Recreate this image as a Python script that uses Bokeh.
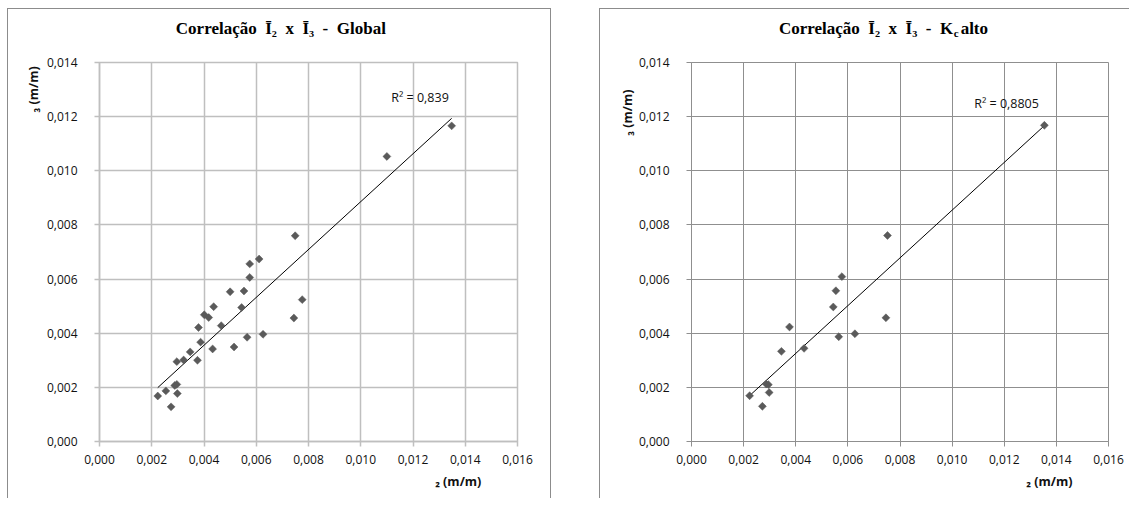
import numpy as np
from bokeh.plotting import figure
from bokeh.models import Range1d, FixedTicker, CustomJSTickFormatter, Label
from bokeh.layouts import row
from bokeh.embed import file_html
from bokeh.resources import INLINE

# ---------------- data ----------------
x_ticks = [0.000, 0.002, 0.004, 0.006, 0.008, 0.010, 0.012, 0.014, 0.016]
y_ticks = [0.000, 0.002, 0.004, 0.006, 0.008, 0.010, 0.012, 0.014]

global_i2 = [0.00223, 0.00254, 0.00274, 0.00288, 0.00296, 0.00298, 0.00296, 0.00322,
             0.00347, 0.00375, 0.00379, 0.00387, 0.00401, 0.00418, 0.00433, 0.00437,
             0.00466, 0.00500, 0.00515, 0.00544, 0.00553, 0.00565, 0.00575, 0.00575,
             0.00611, 0.00626, 0.00744, 0.00749, 0.00776, 0.01100, 0.01348]
global_i3 = [0.00168, 0.00187, 0.00128, 0.00207, 0.00211, 0.00177, 0.00295, 0.00301,
             0.00331, 0.00300, 0.00421, 0.00367, 0.00468, 0.00458, 0.00342, 0.00498,
             0.00428, 0.00553, 0.00349, 0.00495, 0.00556, 0.00385, 0.00606, 0.00656,
             0.00674, 0.00396, 0.00456, 0.00760, 0.00524, 0.01053, 0.01166]

kc_i2 = [0.00223, 0.00272, 0.00287, 0.00295, 0.00298, 0.00345, 0.00376, 0.00432,
         0.00544, 0.00554, 0.00565, 0.00577, 0.00627, 0.00746, 0.00752, 0.01354]
kc_i3 = [0.00169, 0.00130, 0.00212, 0.00210, 0.00181, 0.00333, 0.00423, 0.00344,
         0.00497, 0.00557, 0.00387, 0.00609, 0.00398, 0.00457, 0.00761, 0.01168]

NB = "\u00a0"
title_global = f"Correlação{NB} Ī₂{NB} x{NB} Ī₃{NB} -{NB} Global"
title_kc_main = f"Correlação{NB} Ī₂{NB} x{NB} Ī₃{NB} -{NB} K"
title_kc_sub = "c"
title_kc_tail = "alto"
r2_global = "R² = 0,839"
r2_kc = "R² = 0,8805"
x_label = "₂ (m/m)"
y_label = "₃ (m/m)"

# ---------------- layout constants ----------------
FW, FH = 416, 378
X_MAX, Y_MAX = 0.016, 0.014
TICK_FONT = "Open Sans"
SERIF = "Liberation Serif"
TITLE_DY = -33.5


def px(dx, dy):
    """frame-relative pixel offset (from frame top-left) -> data coords"""
    return dx / FW * X_MAX, Y_MAX - dy / FH * Y_MAX


def outside_label(p, place, pos, text, **kw):
    """text outside the frame: put in a side panel so it is not clipped"""
    x, y = px(*pos)
    p.add_layout(Label(x=x, y=y, text=text, **kw), place)


def make_chart(i2, i3, grid_color, grid_width, r2_text, r2_pos, ylab_pos,
               xlab_pos, min_right, borders):
    p = figure(frame_width=FW, frame_height=FH,
               min_border_left=91, min_border_right=min_right,
               min_border_top=53, min_border_bottom=58,
               x_range=Range1d(0, X_MAX), y_range=Range1d(0, Y_MAX),
               output_backend="svg", toolbar_location=None,
               background_fill_color="white", border_fill_color="white")
    p.styles = borders

    fmt = CustomJSTickFormatter(code="return tick.toFixed(3).replace('.', ',');")
    for ax, ticks, standoff in ((p.xaxis, x_ticks, 8), (p.yaxis, y_ticks, 17)):
        ax.ticker = FixedTicker(ticks=ticks)
        ax.formatter = fmt
        ax.major_label_text_font = TICK_FONT
        ax.major_label_text_font_size = "12px"
        ax.major_label_text_color = "#111111"
        ax.major_label_standoff = standoff
        ax.axis_line_color = grid_color
        ax.axis_line_width = grid_width
        ax.major_tick_line_color = grid_color
        ax.major_tick_line_width = grid_width
        ax.major_tick_out = 5
        ax.major_tick_in = 0
        ax.minor_tick_line_color = None
    p.xgrid.ticker = FixedTicker(ticks=x_ticks)
    p.ygrid.ticker = FixedTicker(ticks=y_ticks)
    for g in (p.xgrid, p.ygrid):
        g.grid_line_color = grid_color
        g.grid_line_width = grid_width
    p.outline_line_color = grid_color
    p.outline_line_width = grid_width

    # linear trend line from the data
    xa = np.array(i2)
    ya = np.array(i3)
    m, b = np.polyfit(xa, ya, 1)
    xl = [xa.min(), xa.max()]
    p.line(xl, [m * v + b for v in xl], line_color="black", line_width=1)

    p.scatter(i2, i3, marker="square", size=5.6, angle=np.pi / 4,
              fill_color="#5a5a5a", line_color="#5a5a5a", line_width=0.5)

    # R2 text (inside the frame)
    x, y = px(*r2_pos)
    p.add_layout(Label(x=x, y=y, text=r2_text, text_font=TICK_FONT,
                       text_font_size="12.5px", text_color="#111111",
                       text_align="center", text_baseline="middle"))

    axis_kw = dict(text_font=TICK_FONT, text_font_style="bold",
                   text_font_size="12.5px", text_color="#111111",
                   text_align="center", text_baseline="middle")
    outside_label(p, "left", ylab_pos, y_label, angle=np.pi / 2, **axis_kw)
    outside_label(p, "below", xlab_pos, x_label, **axis_kw)
    return p


title_kw = dict(text_font=SERIF, text_font_style="bold", text_color="black",
                text_baseline="middle")

border_col = "1px solid #8c8c8c"
p1 = make_chart(global_i2, global_i3, "#bfbfbf", 1.5, r2_global, (319, 34.7),
                (-65.5, 26.8), (357, 418), 35,
                {"border-left": border_col, "border-top": border_col,
                 "border-right": border_col})
outside_label(p1, "above", (180.5, TITLE_DY), title_global,
              text_font_size="17px", text_align="center", **title_kw)

p2 = make_chart(kc_i2, kc_i3, "#8f8f8f", 1, r2_kc, (314.3, 41.3),
                (-64, 50), (357, 418), 22,
                {"border-left": border_col, "border-top": border_col})
outside_label(p2, "above", (261, TITLE_DY), title_kc_main,
              text_font_size="17px", text_align="right", **title_kw)
outside_label(p2, "right", (261.5, TITLE_DY + 4), title_kc_sub,
              text_font_size="11px", text_align="left", **title_kw)
outside_label(p2, "above", (268.5, TITLE_DY), title_kc_tail,
              text_font_size="17px", text_align="left", **title_kw)

layout = row(p1, p2, spacing=48)
layout.styles = {"margin-left": "7px", "margin-top": "8px"}
open("out.html", "w").write(file_html(layout, INLINE))
